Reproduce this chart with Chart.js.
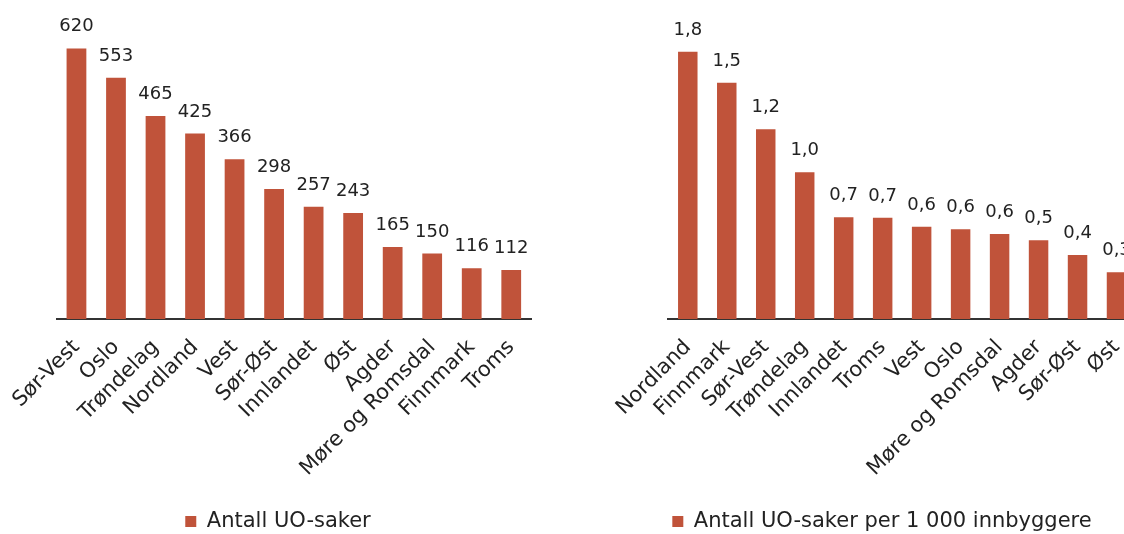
<!DOCTYPE html>
<html><head><meta charset="utf-8">
<script src="https://cdn.jsdelivr.net/npm/chart.js@4.4.1/dist/chart.umd.min.js"></script>
<style>
html,body{margin:0;padding:0;width:1124px;height:534px;overflow:hidden;background:#fff;}
#left{position:absolute;left:0;top:0;width:556px;height:534px;}
#right{position:absolute;left:600px;top:0;width:564px;height:534px;}
</style></head><body>
<div id="left"><canvas id="c1"></canvas></div>
<div id="right"><canvas id="c2"></canvas></div>
<script>
// ---- data ----
const leftCategories = ['Sør-Vest','Oslo','Trøndelag','Nordland','Vest','Sør-Øst','Innlandet','Øst','Agder','Møre og Romsdal','Finnmark','Troms'];
const leftValues = [620,553,465,425,366,298,257,243,165,150,116,112];
const leftSeriesName = 'Antall UO-saker';

const rightCategories = ['Nordland','Finnmark','Sør-Vest','Trøndelag','Innlandet','Troms','Vest','Oslo','Møre og Romsdal','Agder','Sør-Øst','Øst'];
const rightValues = [1.752,1.548,1.243,0.961,0.666,0.664,0.605,0.588,0.557,0.516,0.419,0.306];
const rightSeriesName = 'Antall UO-saker per 1 000 innbyggere';

// ---- style ----
const BAR = '#C0533A';
const TXT = '#222222';
const FAMILY = '"DejaVu Sans", sans-serif';

const valueLabels = {
  id: 'valueLabels',
  afterDatasetsDraw(chart, args, opts) {
    const ctx = chart.ctx;
    const meta = chart.getDatasetMeta(0);
    const data = chart.data.datasets[0].data;
    ctx.save();
    ctx.font = opts.size + 'px ' + FAMILY;
    ctx.fillStyle = TXT;
    ctx.textAlign = 'center';
    ctx.textBaseline = 'alphabetic';
    meta.data.forEach((bar, i) => {
      ctx.fillText(opts.format(data[i]), bar.x, bar.y - opts.offset);
    });
    ctx.restore();
  }
};

function makeChart(id, cats, vals, name, yMax, padL, padR, fmt) {
  return new Chart(document.getElementById(id), {
    type: 'bar',
    data: {
      labels: cats,
      datasets: [{ label: name, data: vals, backgroundColor: BAR, borderWidth: 0,
                   categoryPercentage: 1, barPercentage: 0.5 }]
    },
    options: {
      responsive: true, maintainAspectRatio: false, animation: false,
      layout: { padding: { top: 10, left: 0, right: 0, bottom: -8 } },
      plugins: {
        legend: { position: 'bottom',
          labels: { boxWidth: 11, boxHeight: 11, padding: 2, color: TXT,
                    font: { family: FAMILY, size: 21 } } },
        tooltip: { enabled: false },
        valueLabels: { format: fmt, offset: 17, size: 18 }
      },
      scales: {
        x: {
          grid: { display: false, drawTicks: false },
          border: { display: true, color: '#333333', width: 2 },
          ticks: { color: TXT, font: { family: FAMILY, size: 21 }, maxRotation: 45, minRotation: 45,
                   autoSkip: false, padding: 16 },
          afterFit(s) { s.paddingLeft = padL; s.paddingRight = padR; s.height = 190; }
        },
        y: { display: false, min: 0, max: yMax }
      }
    },
    plugins: [valueLabels]
  });
}

makeChart('c1', leftCategories, leftValues, leftSeriesName, 708, 56.7, 25, v => String(v));
makeChart('c2', rightCategories, rightValues, rightSeriesName, 2.025, 68.3, 28, v => v.toFixed(1).replace('.', ','));
</script>
</body></html>
